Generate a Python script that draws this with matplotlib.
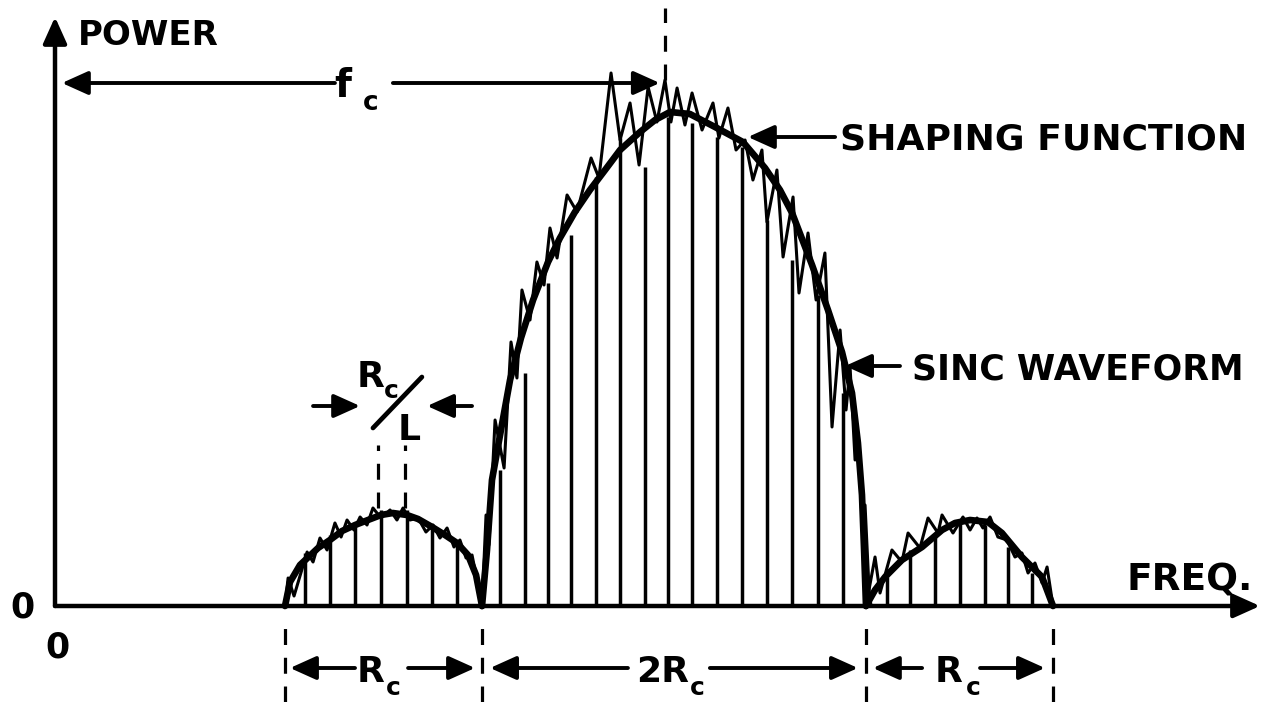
import matplotlib
matplotlib.use("Agg")
import matplotlib.pyplot as plt

# ---------------- data (frequency in units of Rc, power normalised) ----------------
lobe_edges = [1.198, 2.224, 4.224, 5.198]
f_c = 3.19

# spectral lines (positions and heights)
side1_line_f = [1.302, 1.432, 1.563, 1.698, 1.833, 1.964, 2.094]
side1_line_p = [0.106, 0.142, 0.162, 0.192, 0.192, 0.158, 0.128]
main_line_f = [2.318, 2.448, 2.568, 2.688, 2.818, 2.943, 3.073, 3.193,
               3.318, 3.448, 3.578, 3.708, 3.839, 3.974, 4.104]
main_line_p = [0.272, 0.466, 0.646, 0.742, 0.858, 0.936, 0.878, 0.978,
               0.966, 0.938, 0.918, 0.772, 0.692, 0.622, 0.426]
side2_line_f = [4.333, 4.453, 4.583, 4.714, 4.844, 4.964, 5.089]
side2_line_p = [0.058, 0.112, 0.138, 0.166, 0.162, 0.118, 0.066]

# shaping function (thick envelope)
shape1_f = [1.198, 1.224, 1.276, 1.370, 1.432, 1.495, 1.563, 1.630, 1.698,
            1.760, 1.833, 1.891, 1.964, 2.031, 2.094, 2.151, 2.193, 2.224]
shape1_p = [0.0, 0.048, 0.082, 0.116, 0.132, 0.150, 0.162, 0.172, 0.182,
            0.186, 0.182, 0.174, 0.158, 0.142, 0.126, 0.102, 0.062, 0.0]
shape_main_f = [2.224, 2.250, 2.276, 2.318, 2.370, 2.427, 2.490, 2.568, 2.630,
                2.708, 2.786, 2.865, 2.943, 3.047, 3.125, 3.203, 3.307, 3.4375,
                3.583, 3.698, 3.776, 3.839, 3.943, 4.026, 4.099, 4.151, 4.182,
                4.203, 4.214, 4.224]
shape_main_p = [0.0, 0.112, 0.252, 0.342, 0.452, 0.536, 0.612, 0.688, 0.736,
                0.788, 0.832, 0.872, 0.912, 0.948, 0.972, 0.988, 0.984, 0.958,
                0.928, 0.876, 0.832, 0.786, 0.682, 0.592, 0.508, 0.426, 0.326,
                0.222, 0.112, 0.0]
shape2_f = [4.224, 4.271, 4.323, 4.411, 4.516, 4.620, 4.6875, 4.766, 4.859,
            4.932, 5.036, 5.141, 5.198]
shape2_p = [0.0, 0.032, 0.058, 0.092, 0.118, 0.152, 0.166, 0.172, 0.168,
            0.146, 0.098, 0.058, 0.0]

# sinc waveform (thin oscillating curve)
sinc1_f = [1.198, 1.214, 1.245, 1.313, 1.344, 1.380, 1.417, 1.458, 1.490, 1.521,
           1.557, 1.589, 1.625, 1.656, 1.698, 1.745, 1.781, 1.8125, 1.849, 1.891,
           1.932, 1.969, 2.005, 2.042, 2.078, 2.109, 2.141, 2.172, 2.198, 2.224]
sinc1_p = [0.0, 0.056, 0.020, 0.108, 0.088, 0.136, 0.112, 0.166, 0.138, 0.172,
           0.152, 0.178, 0.162, 0.196, 0.176, 0.192, 0.172, 0.196, 0.172, 0.176,
           0.148, 0.162, 0.136, 0.156, 0.118, 0.132, 0.096, 0.102, 0.052, 0.0]
sinc_main_f = [2.224, 2.245, 2.260, 2.292, 2.339, 2.375, 2.406, 2.432, 2.474,
               2.510, 2.547, 2.578, 2.615, 2.667, 2.719, 2.792, 2.833, 2.896,
               2.943, 2.995, 3.042, 3.089, 3.135, 3.177, 3.208, 3.240, 3.281,
               3.318, 3.370, 3.427, 3.458, 3.505, 3.547, 3.594, 3.635, 3.682,
               3.708, 3.760, 3.792, 3.844, 3.875, 3.922, 3.964, 4.010, 4.047,
               4.089, 4.120, 4.141, 4.167, 4.182, 4.203, 4.219, 4.240, 4.250]
sinc_main_p = [0.0, 0.182, 0.122, 0.372, 0.276, 0.528, 0.456, 0.632, 0.572,
               0.688, 0.642, 0.756, 0.696, 0.822, 0.788, 0.896, 0.856, 1.066,
               0.932, 1.006, 0.882, 1.038, 0.968, 1.052, 0.968, 1.036, 0.962,
               1.026, 0.952, 1.006, 0.936, 0.996, 0.912, 0.932, 0.852, 0.912,
               0.768, 0.872, 0.698, 0.818, 0.626, 0.746, 0.612, 0.706, 0.358,
               0.552, 0.392, 0.478, 0.292, 0.338, 0.172, 0.202, 0.032, 0.0]
sinc2_f = [4.224, 4.271, 4.297, 4.359, 4.411, 4.443, 4.505, 4.547, 4.599, 4.620,
           4.677, 4.729, 4.766, 4.802, 4.833, 4.870, 4.911, 4.958, 5.000, 5.036,
           5.068, 5.104, 5.141, 5.167, 5.198]
sinc2_p = [0.0, 0.098, 0.026, 0.112, 0.088, 0.146, 0.116, 0.176, 0.146, 0.182,
           0.146, 0.178, 0.152, 0.176, 0.156, 0.178, 0.138, 0.132, 0.098, 0.106,
           0.066, 0.086, 0.046, 0.078, 0.0]

# labels
y_label = "POWER"
x_label = "FREQ."
shaping_label = "SHAPING FUNCTION"
sinc_label = "SINC WAVEFORM"

# ---------------- figure ----------------
plt.rcParams['font.family'] = ['DejaVu Sans']
plt.rcParams['font.weight'] = 'bold'
fig = plt.figure(figsize=(12.62, 7.02), dpi=100)
ax = fig.add_axes([0, 0, 1, 1])
ax.set_xlim(-0.2865, 6.2865)
ax.set_ylim(-0.192, 1.212)
ax.axis('off')

K = 'black'


def arrow(x0, y0, x1, y1, lw=2.8, hl=0.8, hw=0.36):
    ax.annotate('', xy=(x1, y1), xytext=(x0, y0),
                arrowprops=dict(arrowstyle=f'-|>,head_length={hl},head_width={hw}',
                                lw=lw, color=K, shrinkA=0, shrinkB=0,
                                mutation_scale=20))


# spectral lines
for lf, lp in ((side1_line_f, side1_line_p), (main_line_f, main_line_p),
               (side2_line_f, side2_line_p)):
    ax.vlines(lf, 0, lp, colors=K, lw=2.5)

# sinc waveform
for sf, sp in ((sinc1_f, sinc1_p), (sinc_main_f, sinc_main_p), (sinc2_f, sinc2_p)):
    ax.plot(sf, sp, color=K, lw=2.2, solid_joinstyle='round')

# shaping function
for sf, sp in ((shape1_f, shape1_p), (shape_main_f, shape_main_p), (shape2_f, shape2_p)):
    ax.plot(sf, sp, color=K, lw=4.8, solid_joinstyle='round', solid_capstyle='round')

# axes with arrows
arrow(0, 0, 0, 1.178, lw=3.2)
arrow(0, 0, 6.276, 0, lw=3.2)

ax.text(0.120, 1.122, y_label, fontsize=24.5, ha='left', va='baseline')
ax.text(5.583, 0.032, x_label, fontsize=27, ha='left', va='baseline')
ax.text(-0.172, -0.024, "0", fontsize=25, ha='center', va='baseline')
ax.text(0.0104, -0.102, "0", fontsize=25, ha='center', va='baseline')

# f_c annotation
arrow(1.458, 1.046, 0.036, 1.046)
arrow(1.760, 1.046, f_c - 0.04, 1.046)
ax.text(1.50, 1.018, "f", fontsize=28, ha='center', va='baseline')
ax.text(1.646, 0.992, "c", fontsize=19, ha='center', va='baseline')
ax.vlines([f_c - 0.013], 1.052, 1.196, colors=K, lw=2.3, linestyles=(0, (5, 4)))

# shaping function / sinc labels
arrow(4.063, 0.938, 3.609, 0.938)
ax.text(4.089, 0.912, shaping_label, fontsize=26, ha='left', va='baseline')
arrow(4.401, 0.480, 4.115, 0.480)
ax.text(4.464, 0.452, sinc_label, fontsize=25, ha='left', va='baseline')

# Rc/L annotation
ax.text(1.646, 0.438, "R", fontsize=26, ha='center', va='baseline')
ax.text(1.752, 0.416, "c", fontsize=18, ha='center', va='baseline')
ax.plot([1.656, 1.911], [0.356, 0.458], color=K, lw=3.4, solid_capstyle='round')
ax.text(1.846, 0.332, "L", fontsize=26, ha='center', va='baseline')
arrow(1.344, 0.400, 1.589, 0.400)
arrow(2.172, 0.400, 1.938, 0.400)
ax.vlines([side1_line_f[3] - 0.016, side1_line_f[4] - 0.01], 0.196, 0.322,
          colors=K, lw=2.3, linestyles=(0, (5, 4)))

# bottom dimension marks
ax.vlines(lobe_edges, -0.192, -0.028, colors=K, lw=2.3, linestyles=(0, (5, 4)))
ya = -0.124
arrow(1.5625, ya, 1.224, ya)
arrow(1.839, ya, 2.1875, ya)
ax.text(1.641, -0.152, "R", fontsize=26, ha='center', va='baseline')
ax.text(1.762, -0.178, "c", fontsize=18, ha='center', va='baseline')
arrow(2.984, ya, 2.266, ya)
arrow(3.411, ya, 4.182, ya)
ax.text(3.167, -0.152, "2R", fontsize=26, ha='center', va='baseline')
ax.text(3.346, -0.178, "c", fontsize=18, ha='center', va='baseline')
arrow(4.516, ya, 4.260, ya)
arrow(4.818, ya, 5.156, ya)
ax.text(4.656, -0.152, "R", fontsize=26, ha='center', va='baseline')
ax.text(4.782, -0.178, "c", fontsize=18, ha='center', va='baseline')

fig.savefig("out.png", dpi=100)
